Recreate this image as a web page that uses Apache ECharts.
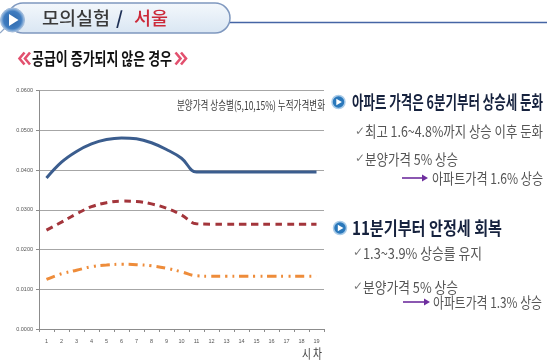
<!DOCTYPE html>
<html><head><meta charset="utf-8">
<script src="https://cdn.jsdelivr.net/npm/echarts@6/dist/echarts.min.js"></script>
<style>html,body{margin:0;padding:0;background:#fff}#c{width:550px;height:363px}</style>
</head><body><div id="c"></div>
<script>
// ---- data ----
const categories = ['1','2','3','4','5','6','7','8','9','10','11','12','13','14','15','16','17','18','19'];
const seriesNames = ['15%', '10%', '5%'];
const rise15 = [0.0380,0.0420,0.0447,0.0466,0.0477,0.0481,0.0479,0.0469,0.0452,0.0430,0.0395,0.0395,0.0395,0.0395,0.0395,0.0395,0.0395,0.0395,0.0395];
const rise10 = [0.0249,0.0269,0.0290,0.0308,0.0318,0.0322,0.0321,0.0315,0.0304,0.0287,0.0265,0.0264,0.0264,0.0264,0.0264,0.0264,0.0264,0.0264,0.0264];
const rise5  = [0.0125,0.0139,0.0148,0.0157,0.0161,0.0163,0.0162,0.0159,0.0153,0.0144,0.0134,0.0133,0.0133,0.0133,0.0133,0.0133,0.0133,0.0133,0.0133];
const yMin = 0, yMax = 0.06, yStep = 0.01;
const chartTitle = '분양가격 상승별(5,10,15%) 누적가격변화';
const xAxisTitle = '시 차';

const FONT = '"Noto Sans CJK KR", "Noto Sans", sans-serif';
const ctx = document.createElement('canvas').getContext('2d');
function fitText(text, x, y, w, size, weight, fill, extra) {
  ctx.font = (weight || 'normal') + ' ' + size + 'px ' + FONT;
  const m = ctx.measureText(text).width;
  const sx = w / m;
  return Object.assign({
    type: 'text', x: x, y: y, scaleX: sx, scaleY: 1, originX: 0, originY: 0,
    style: { text: text, fill: fill, fontSize: size, fontWeight: weight || 'normal', fontFamily: FONT,
      align: 'left', verticalAlign: 'middle', textAlign: 'left', textVerticalAlign: 'middle' }
  }, extra || {});
}
function bullet(cx, cy) {
  return [
    { type: 'circle', shape: { cx: cx, cy: cy, r: 6.5 }, style: { fill: '#2a78bb', stroke: '#a9cbe8', lineWidth: 1.5 } },
    { type: 'polygon', shape: { points: [[cx - 2.2, cy - 3.2], [cx - 2.2, cy + 3.2], [cx + 3.4, cy]] }, style: { fill: '#ffffff' } }
  ];
}
function check(x, y) {
  return { type: 'text', x: x, y: y, style: { text: '✓', fill: '#7a7a7a', fontSize: 12, fontFamily: 'DejaVu Sans', verticalAlign: 'middle', textVerticalAlign: 'middle' } };
}
function arrow(x1, x2, y) {
  return [
    { type: 'line', shape: { x1: x1, y1: y, x2: x2 - 4, y2: y }, style: { stroke: '#6e2e9e', lineWidth: 1.6 } },
    { type: 'polygon', shape: { points: [[x2 - 6, y - 3.5], [x2 - 6, y + 3.5], [x2, y]] }, style: { fill: '#6e2e9e' } }
  ];
}
function chevrons(x, y, dir) {
  // dir = -1 pointing left, +1 pointing right; x is tip of first chevron
  const out = [];
  for (let k = 0; k < 2; k++) {
    const tx = x + dir * k * 5.5 * -1;
    out.push({ type: 'polyline', shape: { points: [[tx - dir * 5, y - 6], [tx, y], [tx - dir * 5, y + 6]] },
      style: { stroke: '#e2506e', lineWidth: 2.6, fill: null, lineJoin: 'miter' } });
  }
  return out;
}

const graphics = [];
graphics.push({ type: 'line', shape: { x1: 228, y1: 22.5, x2: 547, y2: 22.5 }, style: { stroke: '#4565a5', lineWidth: 1.5 } });
graphics.push({ type: 'rect', shape: { x: 8, y: 3, width: 222, height: 30, r: 15 },
  style: { fill: { type: 'linear', x: 0, y: 0, x2: 0, y2: 1, colorStops: [{ offset: 0, color: '#f4f8fc' }, { offset: 1, color: '#d9e6f3' }] },
    stroke: '#7f98bf', lineWidth: 1.5 } });
graphics.push({ type: 'line', shape: { x1: 0, y1: 33, x2: 5, y2: 28 }, style: { stroke: '#8ea6c8', lineWidth: 1.2 } });
graphics.push({ type: 'circle', shape: { cx: 12.5, cy: 20, r: 12 },
  style: { fill: { type: 'radial', x: 0.5, y: 0.5, r: 0.5, colorStops: [{ offset: 0, color: '#2d66a8' }, { offset: 0.7, color: '#3f7cc0' }, { offset: 1, color: '#b7d0ea' }] },
    stroke: '#9fb9d9', lineWidth: 1 } });
graphics.push({ type: 'polygon', shape: { points: [[9, 14], [9, 26], [18.5, 20]] }, style: { fill: '#ffffff' } });
graphics.push(fitText('모의실험', 42, 18.5, 68, 18, '500', '#3a3a3a'));
graphics.push(fitText('/', 116, 18.5, 7, 18, 'bold', '#1d2f55'));
graphics.push(fitText('서울', 134, 18.5, 34, 18, '500', '#cc2a3a'));
// 《 (two chevrons pointing left, tips at x=19 and 24.5)
graphics.push.apply(graphics, chevrons(19.5, 58.5, -1));
graphics.push(fitText('공급이 증가되지 않은 경우', 32, 58.5, 140, 17, 'bold', '#111111'));
// 》 (pointing right, tips at 186 and 180.5)
graphics.push.apply(graphics, chevrons(186, 58.5, 1));
graphics.push(fitText(chartTitle, 177, 105, 148, 12, 'normal', '#3a3a3a'));
graphics.push(fitText(xAxisTitle, 302, 353, 20, 13, 'normal', '#404040'));

graphics.push.apply(graphics, bullet(338.5, 102));
graphics.push(fitText('아파트 가격은 6분기부터 상승세 둔화', 352, 102, 191, 18, 'bold', '#16223e'));
graphics.push(check(355, 131.5));
graphics.push(fitText('최고 1.6~4.8%까지 상승 이후 둔화', 365, 131.5, 178, 15, 'normal', '#555555'));
graphics.push(check(355, 159));
graphics.push(fitText('분양가격 5% 상승', 365, 159, 93, 15, 'normal', '#555555'));
graphics.push.apply(graphics, arrow(402, 428, 178));
graphics.push(fitText('아파트가격 1.6% 상승', 432, 178, 111, 15, 'normal', '#555555'));

graphics.push.apply(graphics, bullet(340, 228));
graphics.push(fitText('11분기부터 안정세 회복', 352, 228, 150, 18, 'bold', '#16223e'));
graphics.push(check(353, 253));
graphics.push(fitText('1.3~3.9% 상승를 유지', 363, 253, 119, 15, 'normal', '#555555'));
graphics.push(check(353, 287));
graphics.push(fitText('분양가격 5% 상승', 363, 287, 95, 15, 'normal', '#555555'));
graphics.push.apply(graphics, arrow(403, 430, 302));
graphics.push(fitText('아파트가격 1.3% 상승', 433, 302, 109, 15, 'normal', '#555555'));

function withEndLabel(arr, text) {
  return arr.map(function (v, i) {
    if (i === arr.length - 1) {
      return { value: v, label: { show: true, formatter: text, position: 'top', offset: [-8, -3],
        fontSize: 9, color: '#444', fontFamily: 'Liberation Sans Narrow, Liberation Sans, sans-serif' } };
    }
    return v;
  });
}

const chart = echarts.init(document.getElementById('c'), null, { renderer: 'canvas' });
chart.setOption({
  animation: false,
  backgroundColor: '#ffffff',
  grid: { left: 39, right: 226, top: 90.7, bottom: 34 },
  xAxis: {
    type: 'category', data: categories, boundaryGap: true,
    axisLine: { lineStyle: { color: '#8c8c8c', width: 1 } },
    axisTick: { show: true, length: 3, lineStyle: { color: '#8c8c8c' } },
    axisLabel: { fontSize: 5.5, color: '#555', margin: 9, fontFamily: 'Liberation Sans' }
  },
  yAxis: {
    type: 'value', min: yMin, max: yMax, interval: yStep,
    axisLine: { show: true, lineStyle: { color: '#8c8c8c', width: 1 } },
    axisTick: { show: true, length: 3, lineStyle: { color: '#8c8c8c' } },
    axisLabel: { fontSize: 5.5, color: '#555', margin: 6, fontFamily: 'Liberation Sans', formatter: function (v) { return v.toFixed(4); } },
    splitLine: { show: true, lineStyle: { color: '#a6a6a6', width: 1 } }
  },
  series: [
    { name: seriesNames[0], type: 'line', data: withEndLabel(rise15, seriesNames[0]), smooth: 0.4, showSymbol: false, symbol: 'none',
      lineStyle: { color: '#3b5d8e', width: 3 } },
    { name: seriesNames[1], type: 'line', data: withEndLabel(rise10, seriesNames[1]), smooth: 0.4, showSymbol: false, symbol: 'none',
      lineStyle: { color: '#a3353b', width: 3, type: [7, 5] } },
    { name: seriesNames[2], type: 'line', data: withEndLabel(rise5, seriesNames[2]), smooth: 0.4, showSymbol: false, symbol: 'none',
      lineStyle: { color: '#ee8c3a', width: 3, type: [9, 5, 2, 5, 2, 5] } }
  ],
  graphic: { elements: graphics }
});
</script>
</body></html>
